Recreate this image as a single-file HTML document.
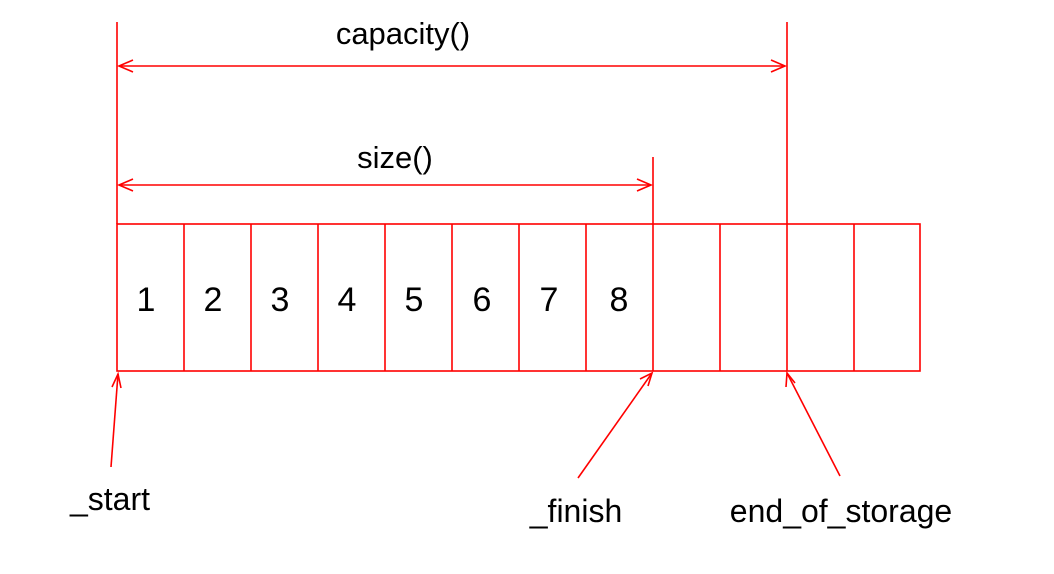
<!DOCTYPE html>
<html><head><style>html,body{margin:0;padding:0;background:#fff;}svg{display:block}</style></head>
<body>
<svg width="1054" height="574" viewBox="0 0 1054 574" xmlns="http://www.w3.org/2000/svg" font-family="Liberation Sans, Arial, sans-serif">
<g stroke="#ff0000" stroke-width="1.6" fill="none">
<rect x="117" y="224" width="803" height="147"/>
<line x1="184" y1="224" x2="184" y2="371"/>
<line x1="251" y1="224" x2="251" y2="371"/>
<line x1="318" y1="224" x2="318" y2="371"/>
<line x1="385" y1="224" x2="385" y2="371"/>
<line x1="452" y1="224" x2="452" y2="371"/>
<line x1="519" y1="224" x2="519" y2="371"/>
<line x1="586" y1="224" x2="586" y2="371"/>
<line x1="653" y1="224" x2="653" y2="371"/>
<line x1="720" y1="224" x2="720" y2="371"/>
<line x1="787" y1="224" x2="787" y2="371"/>
<line x1="854" y1="224" x2="854" y2="371"/>
<line x1="117" y1="22" x2="117" y2="224"/>
<line x1="787" y1="22" x2="787" y2="224"/>
<line x1="653" y1="157" x2="653" y2="224"/>
<line x1="119" y1="66" x2="785" y2="66"/>
<polyline points="133,60 119,66 133,72"/>
<polyline points="771,60 785,66 771,72"/>
<line x1="119" y1="185" x2="651" y2="185"/>
<polyline points="133,179 119,185 133,191"/>
<polyline points="637,179 651,185 637,191"/>
<line x1="111" y1="467" x2="118" y2="374"/>
<polyline points="112,387 118,374 121,388"/>
<line x1="578" y1="478" x2="652" y2="373"/>
<polyline points="640,379 652,373 648,386"/>
<line x1="840" y1="476" x2="787" y2="373"/>
<polyline points="786,387 787,373 795,383"/>
</g>
<g fill="#000" font-size="34" text-anchor="middle">
<text x="403" y="44" font-size="31">capacity()</text>
<text x="395" y="168" font-size="31">size()</text>
<text x="146" y="311">1</text><text x="213" y="311">2</text><text x="280" y="311">3</text><text x="347" y="311">4</text>
<text x="414" y="311">5</text><text x="482" y="311">6</text><text x="549" y="311">7</text><text x="619" y="311">8</text>
<text x="110" y="510" font-size="32">_start</text>
<text x="576" y="522" font-size="32">_finish</text>
<text x="841" y="522" font-size="32">end_of_storage</text>
</g>
</svg>
</body></html>
